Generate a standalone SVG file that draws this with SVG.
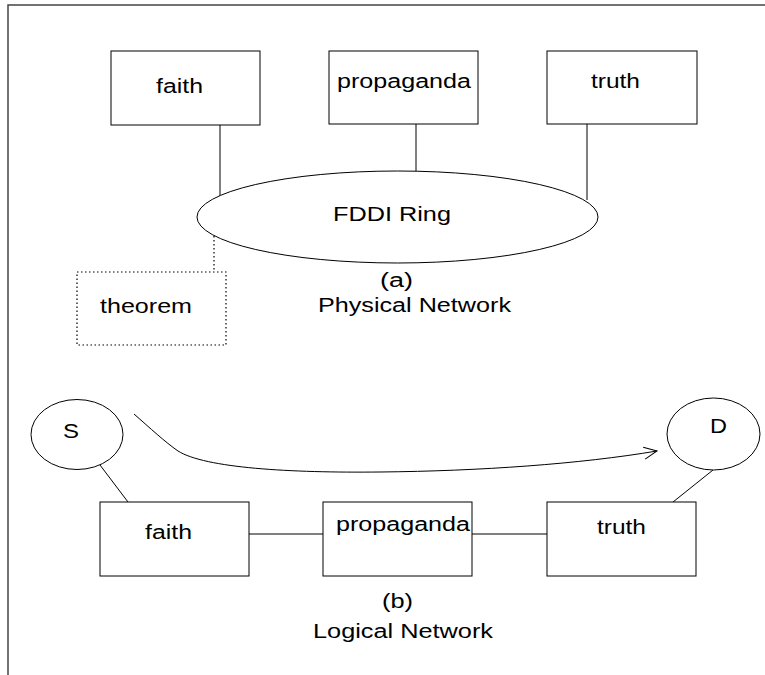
<svg xmlns="http://www.w3.org/2000/svg" width="765" height="675" viewBox="0 0 765 675">
<style>
.box{fill:#fff;stroke:#000;stroke-width:1}
.dot{fill:none;stroke:#000;stroke-width:1.2;stroke-dasharray:1.5 2.5}
.ln{fill:none;stroke:#000;stroke-width:1}
.t{font-family:"Liberation Sans",Arial,sans-serif;font-size:20px;fill:#000}
.frame{fill:none;stroke:#444;stroke-width:1.5}
</style>
<defs>
<marker id="arr" viewBox="0 0 14 14" refX="13" refY="7" markerWidth="14" markerHeight="14" markerUnits="userSpaceOnUse" orient="auto">
<path d="M0,1 L13,7 L0,13" fill="none" stroke="#000" stroke-width="1"/>
</marker>
</defs>
<rect width="765" height="675" fill="#fff"/>
<path class="frame" d="M765,5 L8,5 L8,675"/>
<g id="connectors">
<line class="ln" x1="220" y1="125" x2="220" y2="198"/>
<line class="ln" x1="416" y1="124" x2="416" y2="171"/>
<line class="ln" x1="587" y1="124" x2="587" y2="200"/>
<line class="dot" x1="214" y1="236" x2="214" y2="272"/>
<line class="ln" x1="100" y1="465" x2="128" y2="502"/>
<line class="ln" x1="673" y1="502" x2="713" y2="470"/>
<line class="ln" x1="249" y1="534" x2="323" y2="534"/>
<line class="ln" x1="472" y1="534" x2="547" y2="534"/>
<path class="ln" d="M134,414 C150,428 165,442 178,451 C205,468 290,473 380,472 C480,471 580,464 657,451" marker-end="url(#arr)"/>
</g>
<g id="faith-top">
<rect class="box" x="111" y="51" width="149" height="74"/>
<text class="t" x="156" y="93" textLength="47" lengthAdjust="spacingAndGlyphs">faith</text>
</g>
<g id="propaganda-top">
<rect class="box" x="329" y="51" width="149" height="73"/>
<text class="t" x="337" y="88" textLength="134" lengthAdjust="spacingAndGlyphs">propaganda</text>
</g>
<g id="truth-top">
<rect class="box" x="547" y="51" width="150" height="73"/>
<text class="t" x="591" y="88" textLength="49" lengthAdjust="spacingAndGlyphs">truth</text>
</g>
<g id="fddi-ring">
<ellipse class="box" cx="397.5" cy="217" rx="200.5" ry="46"/>
<text class="t" x="333" y="221" textLength="118" lengthAdjust="spacingAndGlyphs">FDDI Ring</text>
</g>
<g id="theorem">
<rect class="dot" x="77" y="272" width="149" height="73"/>
<text class="t" x="100" y="313" textLength="92" lengthAdjust="spacingAndGlyphs">theorem</text>
</g>
<g id="label-a">
<text class="t" x="380" y="287" textLength="33" lengthAdjust="spacingAndGlyphs">(a)</text>
<text class="t" x="318" y="312" textLength="193" lengthAdjust="spacingAndGlyphs">Physical Network</text>
</g>
<g id="S">
<ellipse class="box" cx="77" cy="434.5" rx="46" ry="35"/>
<text class="t" x="63" y="438" textLength="16" lengthAdjust="spacingAndGlyphs">S</text>
</g>
<g id="D">
<ellipse class="box" cx="713.5" cy="434" rx="46.5" ry="36"/>
<text class="t" x="710" y="433" textLength="17" lengthAdjust="spacingAndGlyphs">D</text>
</g>
<g id="faith-bottom">
<rect class="box" x="100" y="502" width="149" height="74"/>
<text class="t" x="145" y="539" textLength="47" lengthAdjust="spacingAndGlyphs">faith</text>
</g>
<g id="propaganda-bottom">
<rect class="box" x="323" y="502" width="149" height="74"/>
<text class="t" x="336" y="531" textLength="134" lengthAdjust="spacingAndGlyphs">propaganda</text>
</g>
<g id="truth-bottom">
<rect class="box" x="547" y="502" width="149" height="74"/>
<text class="t" x="597" y="534" textLength="49" lengthAdjust="spacingAndGlyphs">truth</text>
</g>
<g id="label-b">
<text class="t" x="382" y="608" textLength="31" lengthAdjust="spacingAndGlyphs">(b)</text>
<text class="t" x="313" y="638" textLength="180" lengthAdjust="spacingAndGlyphs">Logical Network</text>
</g>
</svg>
